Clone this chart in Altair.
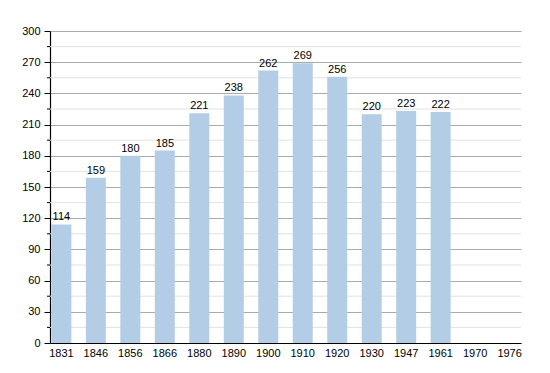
import altair as alt
import pandas as pd

years = ["1831", "1846", "1856", "1866", "1880", "1890", "1900", "1910",
         "1920", "1930", "1947", "1961", "1970", "1976"]
population = [114, 159, 180, 185, 221, 238, 262, 269, 256, 220, 223, 222, None, None]
major_ticks = list(range(0, 301, 30))
minor_vals = list(range(15, 300, 30))

df = pd.DataFrame({"year": years, "pop": population})

FONT = "Liberation Sans"
x_enc = alt.X("year:N", sort=years, title=None,
              scale=alt.Scale(paddingInner=0.42, paddingOuter=0.04),
              axis=alt.Axis(labelAngle=0, ticks=False, domainColor="black",
                            labelFont=FONT, labelFontSize=11, labelColor="black",
                            labelPadding=4, grid=False, labelOverlap=False))

y_scale = alt.Scale(domain=[0, 300], nice=False)
y_axis = alt.Axis(values=major_ticks, tickSize=6, tickColor="black",
                  domainColor="black", gridColor="#aaaaaa", labelFont=FONT,
                  labelFontSize=11, labelColor="black", labelPadding=4,
                  labelOverlap=False, title=None)

minor_grid = alt.Chart(pd.DataFrame({"v": minor_vals})).mark_rule(
    color="#e2e2e2", strokeWidth=1
).encode(y=alt.Y("v:Q", scale=y_scale, axis=y_axis, title=None))

minor_ticks = alt.Chart(pd.DataFrame({"v": minor_vals})).mark_rule(
    color="black", strokeWidth=1
).encode(y=alt.Y("v:Q", scale=y_scale, axis=y_axis, title=None),
         x=alt.value(-3), x2=alt.value(0))

bars = alt.Chart(df).mark_bar(color="#b3cde6").encode(
    x=x_enc,
    y=alt.Y("pop:Q", title=None, scale=y_scale, axis=y_axis),
)

labels = alt.Chart(df).mark_text(dy=-7, font=FONT, fontSize=11, color="black").encode(
    x=alt.X("year:N", sort=years),
    y=alt.Y("pop:Q", scale=y_scale, axis=y_axis, title=None),
    text=alt.Text("pop:Q"),
)

chart = alt.layer(minor_grid, bars, minor_ticks, labels).properties(
    width=471, height=312,
    autosize=alt.AutoSizeParams(type="none"),
    padding={"left": 42, "top": 23, "right": 20, "bottom": 20},
).configure_view(stroke=None).configure_axis(domainWidth=1.2)

chart.save("out.html", embed_options={"renderer": "svg", "actions": False})
